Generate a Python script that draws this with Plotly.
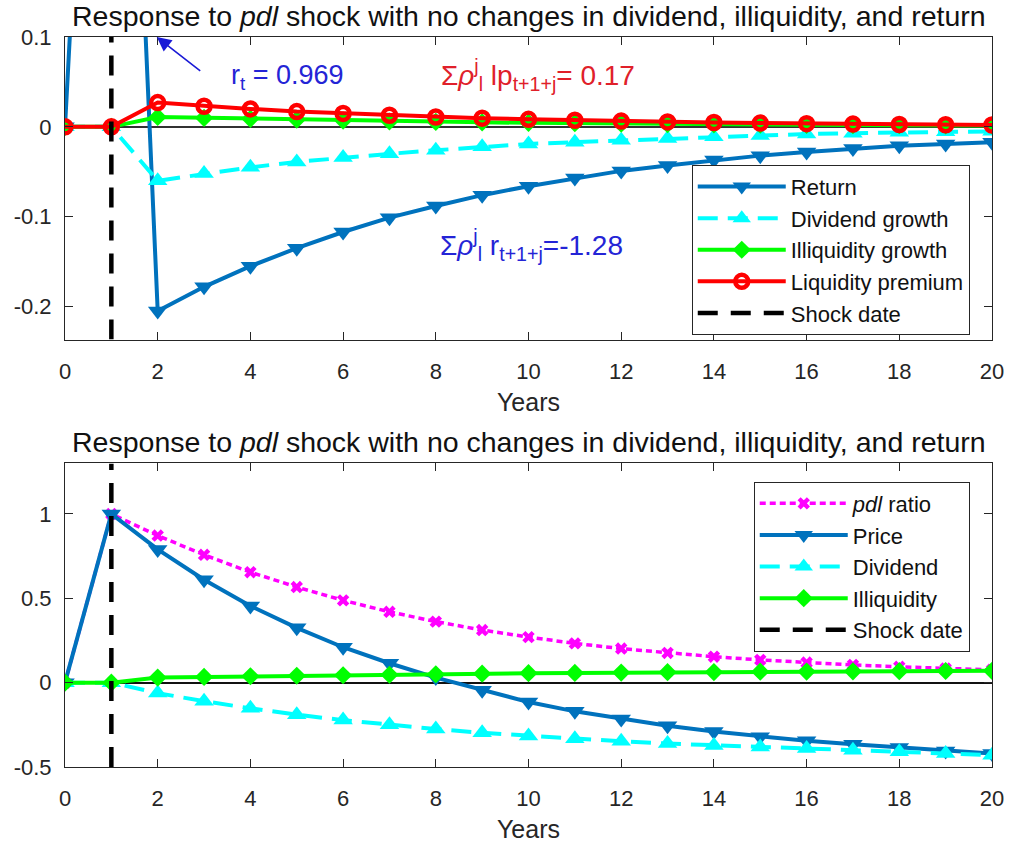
import plotly.graph_objects as go

# ---------------- data ----------------
years = list(range(21))

# top panel
ret = [0, 0.969, -0.205, -0.178, -0.155, -0.135, -0.117, -0.101, -0.088, -0.076, -0.066,
       -0.057, -0.049, -0.043, -0.037, -0.032, -0.028, -0.024, -0.021, -0.019, -0.017]
div_growth = [0, 0, -0.060, -0.052, -0.045, -0.039, -0.034, -0.030, -0.026, -0.022, -0.019,
              -0.017, -0.015, -0.013, -0.011, -0.0095, -0.008, -0.007, -0.006, -0.0055, -0.005]
illiq_growth = [0, 0, 0.011, 0.010, 0.009, 0.008, 0.007, 0.006, 0.0055, 0.005, 0.0045,
                0.004, 0.0035, 0.003, 0.0028, 0.0025, 0.0022, 0.002, 0.0018, 0.0016, 0.0015]
liq_premium = [0, 0, 0.027, 0.023, 0.020, 0.017, 0.015, 0.013, 0.011, 0.0097, 0.0084,
               0.0073, 0.0064, 0.0055, 0.0048, 0.0042, 0.0036, 0.0031, 0.0027, 0.0024, 0.0021]

# bottom panel
pdl_ratio = [0, 1.0, 0.872, 0.758, 0.655, 0.567, 0.488, 0.42, 0.362, 0.312, 0.27,
             0.233, 0.202, 0.176, 0.154, 0.135, 0.119, 0.105, 0.094, 0.084, 0.076]
price = [0, 1.0, 0.79, 0.61, 0.455, 0.325, 0.21, 0.115, 0.03, -0.045, -0.115,
         -0.17, -0.215, -0.255, -0.29, -0.32, -0.345, -0.365, -0.385, -0.405, -0.42]
dividend = [0, 0, -0.062, -0.11, -0.152, -0.19, -0.222, -0.25, -0.275, -0.297, -0.316,
            -0.333, -0.348, -0.361, -0.372, -0.382, -0.391, -0.40, -0.41, -0.42, -0.43]
illiquidity = [0, 0, 0.03, 0.034, 0.038, 0.041, 0.044, 0.047, 0.05, 0.053, 0.056,
               0.058, 0.06, 0.062, 0.063, 0.065, 0.066, 0.067, 0.068, 0.069, 0.07]

shock_year = 1
top_yrange = [-0.2367, 0.1]
bot_yrange = [-0.5, 1.3]
xticks = list(range(0, 21, 2))
top_yticks = [-0.2, -0.1, 0, 0.1]
top_yticklabels = ["-0.2", "-0.1", "0", "0.1"]
bot_yticks = [-0.5, 0, 0.5, 1]
bot_yticklabels = ["-0.5", "0", "0.5", "1"]

title_text = "Response to <i>pdl</i> shock with no changes in dividend, illiquidity, and return"

# ---------------- styles ----------------
BLUE = "#0072BD"
CYAN = "#00FFFF"
GREEN = "#00FF00"
RED = "#FF0000"
MAG = "#FF00FF"
FONT = "Liberation Sans, Arial, sans-serif"
AX = "#262626"

fig = go.Figure()

# top panel traces
fig.add_trace(go.Scatter(x=years, y=ret, name="Return", mode="lines+markers",
                         line=dict(color=BLUE, width=4),
                         marker=dict(symbol="triangle-down", size=17, color=BLUE),
                         xaxis="x", yaxis="y", legend="legend", legendgroup="a"))
fig.add_trace(go.Scatter(x=years, y=div_growth, name="Dividend growth", mode="lines+markers",
                         line=dict(color=CYAN, width=4, dash="20px,10px"),
                         marker=dict(symbol="triangle-up", size=17, color=CYAN),
                         xaxis="x", yaxis="y", legend="legend", legendgroup="b"))
fig.add_trace(go.Scatter(x=years, y=illiq_growth, name="Illiquidity growth", mode="lines+markers",
                         line=dict(color=GREEN, width=4),
                         marker=dict(symbol="diamond", size=14, color=GREEN),
                         xaxis="x", yaxis="y", legend="legend", legendgroup="c"))
fig.add_trace(go.Scatter(x=years, y=liq_premium, name="Liquidity premium", mode="lines+markers",
                         line=dict(color=RED, width=4),
                         marker=dict(symbol="circle-open", size=13, color=RED, line=dict(width=4.5, color=RED)),
                         xaxis="x", yaxis="y", legend="legend", legendgroup="d"))
fig.add_trace(go.Scatter(x=[shock_year, shock_year], y=top_yrange, name="Shock date", mode="lines",
                         line=dict(color="black", width=4.5, dash="20px,13px"),
                         xaxis="x", yaxis="y", legend="legend", legendgroup="e"))

# bottom panel traces
fig.add_trace(go.Scatter(x=years, y=pdl_ratio, name="<i>pdl</i> ratio", mode="lines+markers",
                         line=dict(color=MAG, width=3.5, dash="6px,4px"),
                         marker=dict(symbol="x", size=11, color=MAG),
                         xaxis="x2", yaxis="y2", legend="legend2", legendgroup="f"))
fig.add_trace(go.Scatter(x=years, y=price, name="Price", mode="lines+markers",
                         line=dict(color=BLUE, width=4),
                         marker=dict(symbol="triangle-down", size=17, color=BLUE),
                         xaxis="x2", yaxis="y2", legend="legend2", legendgroup="g"))
fig.add_trace(go.Scatter(x=years, y=dividend, name="Dividend", mode="lines+markers",
                         line=dict(color=CYAN, width=4, dash="20px,10px"),
                         marker=dict(symbol="triangle-up", size=17, color=CYAN),
                         xaxis="x2", yaxis="y2", legend="legend2", legendgroup="h"))
fig.add_trace(go.Scatter(x=years, y=illiquidity, name="Illiquidity", mode="lines+markers",
                         line=dict(color=GREEN, width=4),
                         marker=dict(symbol="diamond", size=14, color=GREEN),
                         xaxis="x2", yaxis="y2", legend="legend2", legendgroup="i"))
fig.add_trace(go.Scatter(x=[shock_year, shock_year], y=bot_yrange, name="Shock date", mode="lines",
                         line=dict(color="black", width=4.5, dash="20px,13px"),
                         xaxis="x2", yaxis="y2", legend="legend2", legendgroup="j"))

axis_common = dict(showline=True, linecolor=AX, linewidth=1, mirror="ticks",
                   ticks="inside", ticklen=8, tickcolor=AX, tickwidth=1,
                   showgrid=False, tickfont=dict(family=FONT, size=22, color=AX))

xcommon = dict(axis_common, range=[0, 20], tickvals=xticks, zeroline=False,
               ticklabelstandoff=12,
               title=dict(text="Years", font=dict(family=FONT, size=25, color=AX), standoff=10))

fig.update_layout(
    width=1016, height=851,
    margin=dict(l=65, r=21, t=37, b=83),
    paper_bgcolor="white", plot_bgcolor="white",
    font=dict(family=FONT, color=AX),
    xaxis=dict(xcommon, domain=[0, 1], anchor="y"),
    yaxis=dict(axis_common, domain=[0.5855, 1], anchor="x", range=top_yrange,
               tickvals=top_yticks, ticktext=top_yticklabels,
               zeroline=True, zerolinecolor="#333333", zerolinewidth=1.5, ticklabelstandoff=8),
    xaxis2=dict(xcommon, domain=[0, 1], anchor="y2"),
    yaxis2=dict(axis_common, domain=[0, 0.4159], anchor="x2", range=bot_yrange,
                tickvals=bot_yticks, ticktext=bot_yticklabels,
                zeroline=True, zerolinecolor="#111111", zerolinewidth=1.5, ticklabelstandoff=8),
    legend=dict(x=0.976, y=0.825, xanchor="right", yanchor="top",
                bgcolor="white", bordercolor=AX, borderwidth=1,
                font=dict(family=FONT, size=22, color="#111111"),
                itemwidth=88, tracegroupgap=0, traceorder="normal"),
    legend2=dict(x=0.976, y=0.391, xanchor="right", yanchor="top",
                 bgcolor="white", bordercolor=AX, borderwidth=1,
                 font=dict(family=FONT, size=22, color="#111111"),
                 itemwidth=88, tracegroupgap=0, traceorder="normal"),
    showlegend=True,
)

annotations = [
    dict(text=title_text, xref="x domain", yref="y domain", x=0.5, y=1, xanchor="center",
         yanchor="bottom", yshift=3, showarrow=False,
         font=dict(family=FONT, size=28.5, color="#111111")),
    dict(text=title_text, xref="x2 domain", yref="y2 domain", x=0.5, y=1, xanchor="center",
         yanchor="bottom", yshift=3, showarrow=False,
         font=dict(family=FONT, size=28.5, color="#111111")),
    dict(text="", x=1.98, y=0.1, ax=2.95, ay=0.061, xref="x", yref="y", axref="x", ayref="y",
         showarrow=True, arrowhead=2, arrowsize=1.8, arrowwidth=1.6, arrowcolor="#1a1ad6"),
    dict(text="r<sub>t</sub> = 0.969", x=4.8, y=0.055, xref="x", yref="y", showarrow=False,
         font=dict(family=FONT, size=27, color="#2424d6")),
    dict(text="Σ<i>ρ</i><sup>j</sup><sub>l</sub> lp<sub>t+1+j</sub>= 0.17", x=10.2, y=0.058,
         xref="x", yref="y", showarrow=False, font=dict(family=FONT, size=28, color="#e0202a")),
    dict(text="Σ<i>ρ</i><sup>j</sup><sub>l</sub> r<sub>t+1+j</sub>=-1.28", x=10.06, y=-0.131,
         xref="x", yref="y", showarrow=False, font=dict(family=FONT, size=28, color="#2424d6")),
]
fig.update_layout(annotations=annotations)

fig.write_html("out.html", config={"displayModeBar": False},
               post_script="document.body.style.margin='0px';")
